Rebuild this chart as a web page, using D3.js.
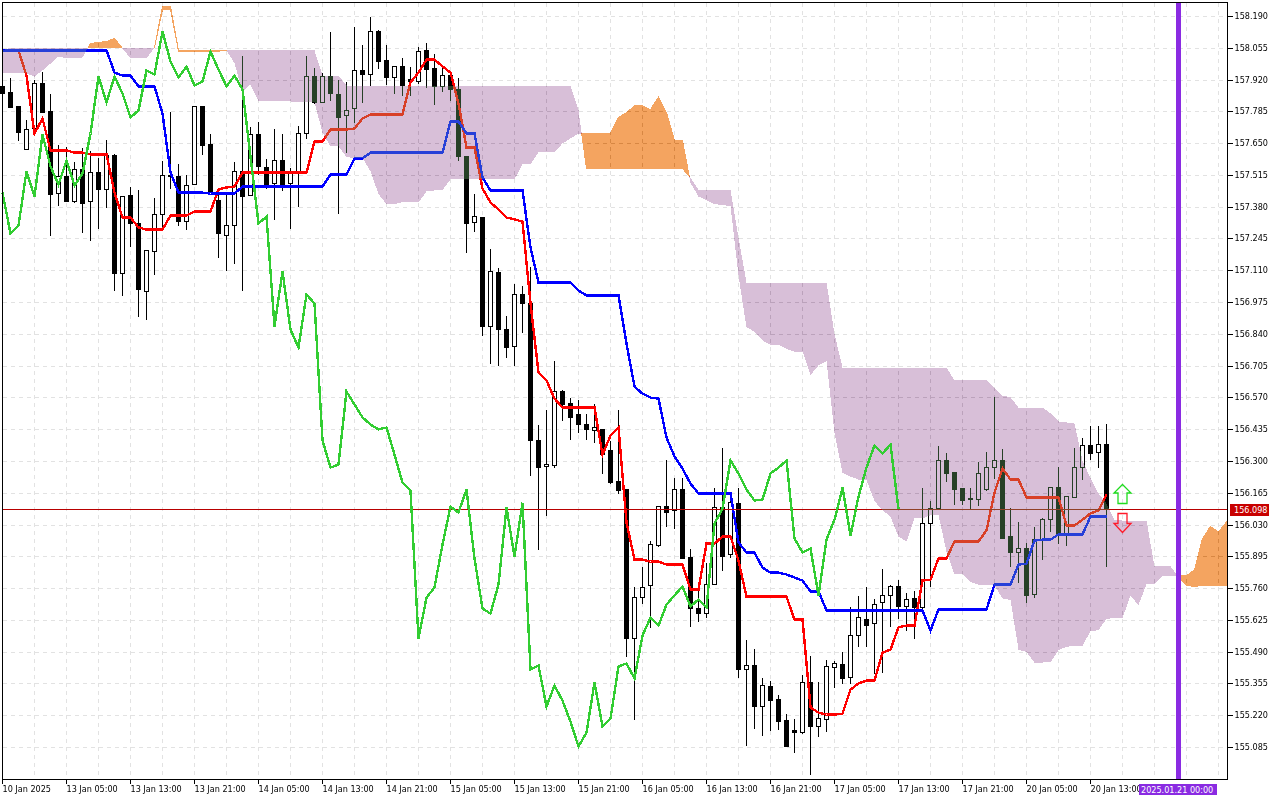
<!DOCTYPE html>
<html><head><meta charset="utf-8">
<script src="https://cdn.jsdelivr.net/npm/d3@7"></script>
<style>
html,body{margin:0;padding:0;background:#fff;overflow:hidden}
svg{display:block}
text,.tick text{font-family:"DejaVu Sans Condensed","DejaVu Sans",sans-serif !important;font-stretch:condensed;font-size:9px !important}
</style></head><body>
<div id="chart"></div>
<script>
const opens=[157.893,157.867,157.808,157.625,157.714,157.905,157.787,157.438,157.510,157.404,
157.540,157.404,157.527,157.455,157.600,157.098,157.430,157.311,157.022,157.192,
157.349,157.515,157.510,157.319,157.476,157.808,157.646,157.408,157.260,157.302,
157.532,157.430,157.689,157.549,157.481,157.578,157.481,157.523,157.693,157.935,
157.825,157.935,157.859,157.770,157.799,157.961,157.944,158.126,158.003,157.931,
157.977,157.922,157.914,158.046,157.969,157.893,157.939,157.880,157.595,157.315,
157.336,156.873,157.103,156.860,156.788,157.009,156.971,156.389,156.278,156.283,
156.597,156.546,156.499,156.457,156.431,156.436,156.346,156.215,156.181,155.548,
155.722,155.773,155.943,156.108,156.092,156.181,155.892,155.675,155.654,155.777,
156.104,155.905,156.121,155.416,155.433,155.259,155.344,155.289,155.199,155.157,
155.148,155.361,155.174,155.204,155.425,155.437,155.382,155.561,155.628,155.612,
155.701,155.731,155.769,155.684,155.718,155.680,156.036,156.100,156.304,156.253,
156.185,156.142,156.138,156.181,156.274,156.304,155.981,155.913,155.930,155.735,
155.968,156.053,156.189,155.985,156.147,156.274,156.368,156.338,156.372];
const highs=[157.893,157.931,157.812,157.752,157.922,157.956,157.863,157.646,157.638,157.574,
157.634,157.621,157.591,157.668,157.608,157.430,157.468,157.455,157.200,157.421,
157.578,157.787,157.566,157.519,157.812,157.808,157.693,157.451,157.438,157.574,
158.024,157.723,157.744,157.587,157.714,157.693,157.549,157.727,158.024,157.973,
157.952,158.126,157.922,157.914,158.148,158.071,158.190,158.135,158.071,157.982,
158.016,157.977,158.063,158.080,158.033,157.973,157.952,157.931,157.595,157.438,
157.340,157.204,157.124,156.920,157.056,157.047,157.128,156.457,156.521,156.729,
156.606,156.572,156.563,156.504,156.546,156.436,156.389,156.521,156.181,155.769,
155.854,155.964,156.113,156.308,156.232,156.232,155.930,155.752,155.871,156.189,
156.359,156.134,156.189,155.543,155.505,155.382,155.369,155.310,155.229,155.208,
155.395,155.476,155.365,155.458,155.454,155.493,155.684,155.731,155.769,155.718,
155.845,155.777,155.798,155.743,155.752,156.189,156.134,156.368,156.338,156.253,
156.185,156.189,156.300,156.342,156.576,156.355,156.104,156.045,155.956,156.024,
156.062,156.189,156.278,156.151,156.359,156.402,156.452,156.452,156.461];
const lows=[157.863,157.803,157.663,157.625,157.706,157.782,157.260,157.387,157.404,157.400,
157.272,157.238,157.289,157.379,157.026,157.005,157.213,156.916,156.903,157.094,
157.298,157.459,157.302,157.285,157.476,157.604,157.442,157.166,157.111,157.141,
157.026,157.430,157.519,157.459,157.328,157.451,157.289,157.383,157.672,157.820,
157.825,157.833,157.353,157.612,157.740,157.825,157.897,157.969,157.901,157.863,
157.854,157.854,157.905,157.888,157.816,157.871,157.833,157.578,157.187,157.277,
156.835,156.716,156.708,156.741,156.708,156.848,156.240,155.926,156.070,156.274,
156.474,156.393,156.423,156.393,156.380,156.249,156.206,156.164,155.471,155.204,
155.696,155.595,155.939,156.024,156.015,155.888,155.599,155.620,155.637,155.777,
155.837,155.892,155.382,155.093,155.165,155.136,155.157,155.161,155.089,155.063,
155.144,154.970,155.132,155.153,155.340,155.357,155.357,155.514,155.514,155.399,
155.403,155.599,155.633,155.582,155.548,155.654,155.769,156.096,156.215,156.117,
156.117,156.096,156.113,156.176,156.228,155.973,155.854,155.786,155.701,155.722,
155.883,156.002,155.951,155.943,156.147,156.223,156.308,156.274,155.854];
const closes=[157.863,157.803,157.697,157.710,157.905,157.782,157.434,157.510,157.404,157.540,
157.396,157.527,157.455,157.600,157.098,157.425,157.311,157.030,157.196,157.349,
157.515,157.510,157.319,157.472,157.808,157.642,157.442,157.268,157.302,157.532,
157.425,157.689,157.553,157.476,157.578,157.472,157.523,157.693,157.935,157.825,
157.935,157.863,157.761,157.791,157.961,157.944,158.126,157.999,157.931,157.977,
157.897,157.914,158.041,157.965,157.893,157.939,157.880,157.595,157.311,157.340,
156.873,157.107,156.860,156.784,157.009,156.971,156.389,156.274,156.287,156.597,
156.542,156.487,156.457,156.436,156.444,156.329,156.210,156.176,155.548,155.722,
155.765,155.947,156.108,156.083,156.181,155.888,155.675,155.654,155.777,156.104,
155.896,156.125,155.416,155.433,155.259,155.348,155.284,155.195,155.089,155.148,
155.361,155.174,155.208,155.429,155.442,155.378,155.561,155.637,155.603,155.692,
155.731,155.769,155.684,155.714,155.680,156.036,156.100,156.304,156.249,156.181,
156.134,156.138,156.249,156.274,156.304,155.973,155.913,155.930,155.731,155.968,
156.053,156.189,155.985,156.151,156.274,156.368,156.334,156.372,156.098];
const tenkan=[null,null,158.046,157.939,157.693,157.757,157.621,157.621,157.621,157.612,
157.612,157.604,157.604,157.604,157.442,157.336,157.336,157.294,157.285,157.285,
157.285,157.345,157.345,157.345,157.362,157.362,157.362,157.455,157.464,157.468,
157.527,157.527,157.527,157.527,157.527,157.527,157.527,157.527,157.527,157.659,
157.659,157.710,157.710,157.710,157.714,157.757,157.774,157.774,157.774,157.774,
157.774,157.910,157.952,158.007,158.007,157.978,157.952,157.820,157.634,157.634,
157.459,157.400,157.370,157.336,157.328,157.319,156.971,156.678,156.644,156.567,
156.529,156.529,156.529,156.529,156.529,156.329,156.410,156.444,156.041,155.883,
155.883,155.875,155.875,155.862,155.862,155.862,155.756,155.756,155.951,155.951,
155.981,155.981,155.879,155.726,155.726,155.726,155.726,155.726,155.726,155.628,
155.628,155.255,155.233,155.225,155.225,155.229,155.331,155.357,155.369,155.369,
155.488,155.501,155.595,155.603,155.603,155.794,155.798,155.888,155.888,155.960,
155.960,155.960,155.960,156.007,156.168,156.270,156.223,156.223,156.147,156.147,
156.147,156.147,156.147,156.028,156.028,156.053,156.079,156.092,156.160];
const kijun=[158.046,158.046,158.046,158.046,158.046,158.046,158.046,158.046,158.046,158.046,
158.046,158.046,158.046,158.046,157.952,157.939,157.939,157.893,157.893,157.893,
157.778,157.527,157.442,157.442,157.442,157.442,157.438,157.438,157.438,157.438,
157.468,157.468,157.468,157.468,157.468,157.468,157.468,157.468,157.468,157.468,
157.468,157.519,157.519,157.519,157.587,157.587,157.612,157.612,157.612,157.612,
157.612,157.612,157.612,157.612,157.612,157.612,157.744,157.744,157.693,157.693,
157.506,157.451,157.451,157.451,157.451,157.451,157.209,157.060,157.060,157.060,
157.060,157.060,157.026,157.005,157.005,157.005,157.005,157.005,156.801,156.618,
156.588,156.571,156.567,156.402,156.321,156.270,156.206,156.164,156.164,156.164,
156.164,156.164,155.956,155.913,155.913,155.849,155.828,155.828,155.820,155.807,
155.794,155.748,155.748,155.667,155.667,155.667,155.667,155.667,155.667,155.667,
155.667,155.667,155.667,155.667,155.667,155.667,155.582,155.671,155.671,155.671,
155.671,155.671,155.671,155.671,155.777,155.777,155.777,155.862,155.866,155.964,
155.968,155.968,155.990,155.990,155.990,155.990,156.066,156.066,156.066];
const chikou=[157.442,157.268,157.302,157.532,
157.425,157.689,157.553,157.476,157.578,157.472,157.523,157.693,157.935,157.825,
157.935,157.863,157.761,157.791,157.961,157.944,158.126,157.999,157.931,157.977,
157.897,157.914,158.041,157.965,157.893,157.939,157.880,157.595,157.311,157.340,
156.873,157.107,156.860,156.784,157.009,156.971,156.389,156.274,156.287,156.597,
156.542,156.487,156.457,156.436,156.444,156.329,156.210,156.176,155.548,155.722,
155.765,155.947,156.108,156.083,156.181,155.888,155.675,155.654,155.777,156.104,
155.896,156.125,155.416,155.433,155.259,155.348,155.284,155.195,155.089,155.148,
155.361,155.174,155.208,155.429,155.442,155.378,155.561,155.637,155.603,155.692,
155.731,155.769,155.684,155.714,155.680,156.036,156.100,156.304,156.249,156.181,
156.134,156.138,156.249,156.274,156.304,155.973,155.913,155.930,155.731,155.968,
156.053,156.189,155.985,156.151,156.274,156.368,156.334,156.372,156.098];
const spanA=[157.952,157.952,157.952,157.948,157.935,157.961,157.990,158.020,158.012,158.012,
158.016,158.075,158.080,158.084,158.097,158.054,158.012,158.012,158.012,158.058,
158.233,158.233,158.046,158.046,158.046,158.046,158.046,158.046,158.046,157.992,
157.869,157.901,157.833,157.833,157.833,157.829,157.829,157.825,157.825,157.825,
157.697,157.638,157.638,157.593,157.589,157.589,157.532,157.436,157.393,157.393,
157.402,157.402,157.400,157.447,157.451,157.453,157.498,157.498,157.498,157.498,
157.498,157.498,157.498,157.498,157.498,157.563,157.563,157.614,157.614,157.614,
157.651,157.672,157.693,157.693,157.693,157.693,157.693,157.761,157.782,157.810,
157.810,157.795,157.848,157.782,157.663,157.663,157.483,157.425,157.410,157.393,
157.389,157.385,157.090,156.869,156.852,156.814,156.795,156.795,156.778,156.767,
156.767,156.667,156.708,156.725,156.421,156.251,156.236,156.223,156.221,156.132,
156.092,156.066,155.981,155.960,156.058,156.058,156.072,156.072,155.917,155.820,
155.820,155.788,155.777,155.777,155.773,155.718,155.711,155.501,155.490,155.446,
155.446,155.448,155.499,155.512,155.518,155.518,155.578,155.584,155.631,155.635,
155.635,155.730,155.690,155.779,155.779,155.815,155.815,155.815,155.815,155.839,
155.973,156.024,156.000,156.043];
const spanB=[158.046,158.058,158.058,158.058,158.058,158.058,158.058,158.058,158.058,158.058,
158.058,158.058,158.058,158.058,158.058,158.058,158.058,158.058,158.058,158.058,
158.220,158.220,158.043,158.043,158.043,158.043,158.043,158.043,158.046,158.046,
158.046,158.046,158.046,158.046,158.046,158.046,158.046,158.046,158.046,158.046,
157.939,157.939,157.939,157.897,157.893,157.893,157.893,157.893,157.893,157.893,
157.893,157.893,157.893,157.893,157.893,157.893,157.893,157.893,157.893,157.893,
157.893,157.893,157.893,157.893,157.893,157.893,157.893,157.893,157.893,157.893,
157.893,157.893,157.791,157.544,157.544,157.544,157.544,157.544,157.544,157.544,
157.544,157.544,157.544,157.544,157.544,157.544,157.506,157.455,157.455,157.455,
157.455,157.451,157.251,157.060,157.060,157.060,157.060,157.060,157.060,157.060,
157.060,157.060,157.060,157.060,156.841,156.699,156.699,156.699,156.699,156.699,
156.699,156.699,156.699,156.699,156.699,156.699,156.699,156.699,156.699,156.644,
156.644,156.644,156.644,156.644,156.610,156.580,156.572,156.529,156.529,156.529,
156.529,156.504,156.470,156.466,156.461,156.304,156.228,156.164,156.121,156.053,
156.049,156.049,156.049,156.049,155.854,155.854,155.854,155.811,155.773,155.769,
155.773,155.773,155.773,155.773];
const priceTicks=[158.190,158.055,157.920,157.785,157.650,157.515,157.380,157.245,157.110,156.975,156.840,156.705,156.570,156.435,156.300,156.165,156.030,155.895,155.760,155.625,155.490,155.355,155.220,155.085];
const timeBars=[0,8,16,24,32,40,48,56,64,72,80,88,96,104,112,120,128,136];
const timeLabels=["10 Jan 2025","13 Jan 05:00","13 Jan 13:00","13 Jan 21:00","14 Jan 05:00","14 Jan 13:00","14 Jan 21:00","15 Jan 05:00","15 Jan 13:00","15 Jan 21:00","16 Jan 05:00","16 Jan 13:00","16 Jan 21:00","17 Jan 05:00","17 Jan 13:00","17 Jan 21:00","20 Jan 05:00","20 Jan 13:00"];
const gridBars=d3.range(4,153,4);
const lastPrice=156.098;
const markerBar=147, markerLabel="2025.01.21 00:00";
const arrowBar=140, arrowUpPrice=156.202, arrowDownPrice=156.079;

const W=1280,H=800,left=2,top_=2,right=1227,bottom=779;
const x=d3.scaleLinear().domain([0,153]).range([2.5,1226.5]);
const y=d3.scaleLinear().domain([158.19,155.085]).range([16.5,747.5]);
const py=v=>Math.floor(y(v))+0.5;
const svg=d3.select('#chart').append('svg').attr('width',W).attr('height',H);
svg.append('rect').attr('width',W).attr('height',H).attr('fill','#fff');

// grid
const grid=svg.append('g').attr('stroke','#e2e2e2').attr('stroke-dasharray','4,4').attr('shape-rendering','crispEdges');
grid.selectAll('.v').data(gridBars).join('line').attr('x1',d=>x(d)).attr('x2',d=>x(d)).attr('y1',top_+1).attr('y2',bottom);
grid.selectAll('.h').data(priceTicks).join('line').attr('x1',left+1).attr('x2',right).attr('y1',d=>py(d)).attr('y2',d=>py(d));

// candles
const bars=opens.map((o,i)=>({i,o,h:highs[i],l:lows[i],c:closes[i]}));
const cg=svg.append('g').attr('shape-rendering','crispEdges');
cg.selectAll('line').data(bars).join('line').attr('x1',d=>x(d.i)).attr('x2',d=>x(d.i))
  .attr('y1',d=>py(d.h)).attr('y2',d=>py(d.l)+0.5).attr('stroke','#000');
cg.selectAll('rect').data(bars).join('rect')
  .attr('x',d=>x(d.i)-2).attr('width',4)
  .attr('y',d=>py(Math.max(d.o,d.c)))
  .attr('height',d=>Math.max(1,py(Math.min(d.o,d.c))-py(Math.max(d.o,d.c))))
  .attr('fill',d=>d.c>=d.o?'#fff':'#000').attr('stroke','#000');

// tenkan / kijun
const line=d3.line().defined(d=>d[1]!=null).x(d=>x(d[0])).y(d=>y(d[1]));
const series=(arr,off=0)=>arr.map((v,i)=>[i+off,v]);
const lw=2.4;
svg.append('path').attr('d',line(series(tenkan))).attr('fill','none').attr('stroke','#ff0000').attr('stroke-width',lw).attr('shape-rendering','crispEdges');
svg.append('path').attr('d',line(series(kijun))).attr('fill','none').attr('stroke','#0000ff').attr('stroke-width',lw).attr('shape-rendering','crispEdges');

// last price line
svg.append('line').attr('x1',left).attr('x2',right).attr('y1',py(lastPrice)).attr('y2',py(lastPrice)).attr('stroke','#b80000').attr('shape-rendering','crispEdges');

// cloud: split where spans cross
const pts=[];
spanA.forEach((a,i)=>{
  const b=spanB[i];
  pts.push({i,a,b});
  if(i<spanA.length-1){
    const a2=spanA[i+1],b2=spanB[i+1],d1=a-b,d2=a2-b2;
    if(d1*d2<0){const t=d1/(d1-d2);const m=a+(a2-a)*t;pts.push({i:i+t,a:m,b:m});}
  }
});
const areaG=d3.area().x(d=>x(d.i)).y0(d=>y(d.a)).y1(d=>y(d.b));
const blend=sel=>sel.style('mix-blend-mode','difference').attr('shape-rendering','crispEdges');
svg.append('path').attr('d',areaG.defined(d=>d.b>=d.a)(pts)).attr('fill','#274027').call(blend);
svg.append('path').attr('d',areaG.defined(d=>d.a>=d.b)(pts)).attr('fill','#0b5b9f').attr('stroke','#0b5b9f').attr('stroke-width',1).call(blend);

// chikou
svg.append('path').attr('d',line(series(chikou))).attr('fill','none').attr('stroke','#32cd32').attr('stroke-width',lw).attr('shape-rendering','crispEdges');

// purple time marker
svg.append('line').attr('x1',x(markerBar)).attr('x2',x(markerBar)).attr('y1',top_).attr('y2',bottom).attr('stroke','#8a2be2').attr('stroke-width',5).attr('shape-rendering','crispEdges');

// arrows
const up=[[0,0],[8.5,8.5],[4.5,8.5],[4.5,19],[-4.5,19],[-4.5,8.5],[-8.5,8.5]];
const dn=[[-4.5,0],[4.5,0],[4.5,10],[8.5,10],[0,19],[-8.5,10],[-4.5,10]];
svg.append('polygon').attr('points',up.map(p=>[x(arrowBar)+p[0],py(arrowUpPrice)+p[1]].join(',')).join(' ')).attr('fill','none').attr('stroke','#1fdc1f').attr('stroke-width',1.3);
svg.append('polygon').attr('points',dn.map(p=>[x(arrowBar)+p[0],py(arrowDownPrice)+p[1]].join(',')).join(' ')).attr('fill','none').attr('stroke','#ff1a2a').attr('stroke-width',1.3);

// frame
svg.append('rect').attr('x',left+.5).attr('y',top_+.5).attr('width',right-left).attr('height',bottom-top_).attr('fill','none').attr('stroke','#000').attr('shape-rendering','crispEdges');

// axes
const yAxis=d3.axisRight(y).tickValues(priceTicks).tickSize(5).tickPadding(2).offset(0).tickFormat(d3.format('.3f'));
const gy=svg.append('g').attr('transform',`translate(${right+.5},0)`).call(yAxis);
gy.select('.domain').remove();
gy.selectAll('.tick').attr('transform',d=>`translate(0,${py(d)})`);
gy.selectAll('line').attr('stroke','#000').attr('shape-rendering','crispEdges');
gy.selectAll('text').attr('fill','#000');

const xAxis=d3.axisBottom(x).tickValues(timeBars).tickSize(4).offset(0).tickFormat((d,i)=>timeLabels[i]);
const gx=svg.append('g').attr('transform',`translate(0,${bottom+.5})`).call(xAxis);
gx.select('.domain').remove();
gx.selectAll('line').attr('stroke','#000').attr('shape-rendering','crispEdges');
gx.selectAll('text').attr('fill','#000').attr('text-anchor','start').attr('x',0).attr('y',6).attr('dy','0.71em');

// price tag
svg.append('rect').attr('x',1230).attr('y',py(lastPrice)-5.5).attr('width',39).attr('height',12).attr('fill','#c80000');
svg.append('text').attr('x',1234).attr('y',py(lastPrice)+3.5).attr('fill','#fff').text(d3.format('.3f')(lastPrice));
// time marker tag
svg.append('rect').attr('x',1139).attr('y',784).attr('width',78).attr('height',11).attr('fill','#8a2be2');
svg.append('text').attr('x',1141).attr('y',793).attr('fill','#fff').text(markerLabel);
</script></body></html>
